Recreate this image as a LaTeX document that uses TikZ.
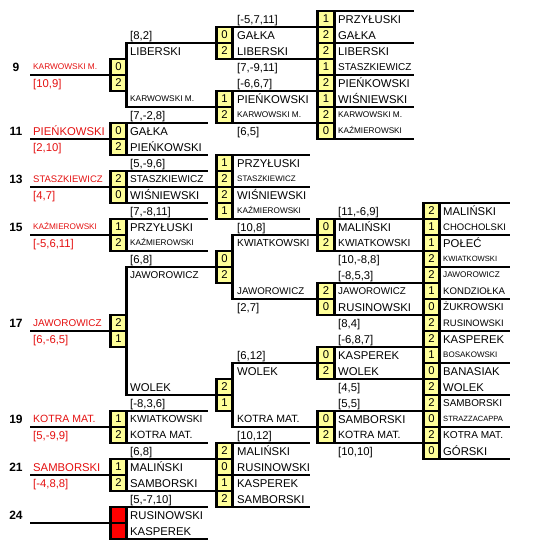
\documentclass[tikz,border=0pt]{standalone}
\usepackage{fontspec}
\setmainfont{Liberation Sans}
\usepackage{tikz}
\usetikzlibrary{positioning}
\definecolor{scorefill}{RGB}{255,255,153}
\definecolor{namered}{RGB}{228,16,16}

\begin{document}
\begin{tikzpicture}[
  x=1pt, y=-1pt,
  node distance=0pt,
  ln/.style={line width=2.6pt},
  sc/.style={draw, line width=2.6pt, fill=scorefill, minimum width=16.5pt, minimum height=16pt,
             inner sep=0pt, outer sep=0pt, font=\fontsize{11.3}{11.3}\selectfont},
  lost/.style={sc, fill=red},
  nm/.style={anchor=base west, inner sep=0pt, font=\fontsize{#1}{#1}\selectfont, yshift={-0.358*#1pt}},
  nm/.default=11.3,
  rd/.style={nm=#1, text=namered},
  rd/.default=11.3,
  nb/.style={anchor=base, inner sep=0pt, font=\fontsize{12}{12}\selectfont\bfseries, yshift=-4.3pt}
]
\useasboundingbox (0,0) rectangle (533,548);

\node[sc] (s9a) at (118.5,67) {0};
\node[sc, below=of s9a] (s9b) {2};
\node[sc] (s11a) at (118.5,131) {0};
\node[sc, below=of s11a] (s11b) {2};
\node[sc] (s13a) at (118.5,179) {2};
\node[sc, below=of s13a] (s13b) {0};
\node[sc] (s15a) at (118.5,227) {1};
\node[sc, below=of s15a] (s15b) {2};
\node[sc] (s17a) at (118.5,323) {2};
\node[sc, below=of s17a] (s17b) {1};
\node[sc] (s19a) at (118.5,419) {1};
\node[sc, below=of s19a] (s19b) {2};
\node[sc] (s21a) at (118.5,467) {1};
\node[sc, below=of s21a] (s21b) {2};
\node[lost] (s24a) at (118.5,515) {};
\node[lost, below=of s24a] (s24b) {};

\node[sc] (b2a) at (224.5,35) {0};
\node[sc, below=of b2a] (b2b) {2};
\node[sc] (b6a) at (224.5,99) {1};
\node[sc, below=of b6a] (b6b) {2};
\node[sc] (b10a) at (224.5,163) {1};
\node[sc, below=of b10a] (b10b) {2};
\node[sc, below=of b10b] (b10c) {2};
\node[sc, below=of b10c] (b10d) {1};
\node[sc] (b16a) at (224.5,259) {0};
\node[sc, below=of b16a] (b16b) {2};
\node[sc] (b24a) at (224.5,387) {2};
\node[sc, below=of b24a] (b24b) {1};
\node[sc] (b28a) at (224.5,451) {2};
\node[sc, below=of b28a] (b28b) {0};
\node[sc, below=of b28b] (b28c) {1};
\node[sc, below=of b28c] (b28d) {2};

\node[sc] (c1) at (326,19) {1};
\node[sc, below=of c1] (c2) {2};
\node[sc, below=of c2] (c3) {2};
\node[sc, below=of c3] (c4) {1};
\node[sc, below=of c4] (c5) {2};
\node[sc, below=of c5] (c6) {1};
\node[sc, below=of c6] (c7) {2};
\node[sc, below=of c7] (c8) {0};
\node[sc] (c14a) at (326,227) {0};
\node[sc, below=of c14a] (c14b) {2};
\node[sc] (c18a) at (326,291) {2};
\node[sc, below=of c18a] (c18b) {0};
\node[sc] (c22a) at (326,355) {0};
\node[sc, below=of c22a] (c22b) {2};
\node[sc] (c26a) at (326,419) {0};
\node[sc, below=of c26a] (c26b) {2};

\node[sc] (d13) at (431.5,211) {2};
\node[sc, below=of d13] (d14) {1};
\node[sc, below=of d14] (d15) {1};
\node[sc, below=of d15] (d16) {2};
\node[sc, below=of d16] (d17) {2};
\node[sc, below=of d17] (d18) {1};
\node[sc, below=of d18] (d19) {0};
\node[sc, below=of d19] (d20) {2};
\node[sc, below=of d20] (d21) {2};
\node[sc, below=of d21] (d22) {1};
\node[sc, below=of d22] (d23) {0};
\node[sc, below=of d23] (d24) {2};
\node[sc, below=of d24] (d25) {2};
\node[sc, below=of d25] (d26) {0};
\node[sc, below=of d26] (d27) {2};
\node[sc, below=of d27] (d28) {0};

\draw[ln] (s9a.south west) -- ++(-80,0);
\draw[ln] (s11a.south west) -- ++(-80,0);
\draw[ln] (s13a.south west) -- ++(-80,0);
\draw[ln] (s15a.south west) -- ++(-80,0);
\draw[ln] (s17a.south west) -- ++(-80,0);
\draw[ln] (s19a.south west) -- ++(-80,0);
\draw[ln] (s21a.south west) -- ++(-80,0);
\draw[ln] (s24a.south west) -- ++(-80,0);

\draw[ln] (b2a.south west) -| (s9a.north east);
\draw[ln] (b6a.south west) -| (s9b.south east);
\draw[ln] (s11a.north east) -- ++(81,0);
\draw[ln] (s11b.south east) -- ++(81,0);
\draw[ln] (s13a.north east) -- ++(81,0);
\draw[ln] (s13a.south east) -- (b10b.south west);
\draw[ln] (s13b.south east) -- ++(81,0);
\draw[ln] (s15a.north east) -- ++(81,0);
\draw[ln] (s15b.south east) -- ++(81,0);
\draw[ln] (b16a.south west) -| (s17a.north east);
\draw[ln] (b24a.south west) -| (s17b.south east);
\draw[ln] (s19a.north east) -- ++(81,0);
\draw[ln] (s19b.south east) -- ++(81,0);
\draw[ln] (s21a.north east) -- (b28a.south west);
\draw[ln] (s21b.south east) -- (b28c.south west);
\draw[ln] (s24a.north east) -- ++(81,0);
\draw[ln] (s24b.south east) -- ++(81,0);

\draw[ln] (b2a.north east) -- (c1.south west);
\draw[ln] (b2b.south east) -- (c3.south west);
\draw[ln] (b6a.north east) -- (c5.south west);
\draw[ln] (b6b.south east) -- (c7.south west);
\draw[ln] (b10a.north east) -- ++(77,0);
\draw[ln] (b10b.south east) -- ++(77,0);
\draw[ln] (b10d.south east) -- ++(77,0);
\draw[ln] (b16a.north east) |- (c14a.south west);
\draw[ln] (b16b.south east) |- (c18a.south west);
\draw[ln] (b24a.north east) |- (c22a.south west);
\draw[ln] (b24b.south east) |- (c26a.south west);
\draw[ln] (b28a.north east) -- ++(77,0);
\draw[ln] (b28b.south east) -- ++(77,0);
\draw[ln] (b28d.south east) -- ++(77,0);

\draw[ln] (c1.north east) -- ++(80,0);
\draw[ln] (c2.south east) -- ++(80,0);
\draw[ln] (c4.south east) -- ++(80,0);
\draw[ln] (c6.south east) -- ++(80,0);
\draw[ln] (c8.south east) -- ++(80,0);
\draw[ln] (c14a.north east) -- (d13.south west);
\draw[ln] (c14b.south east) -- (d15.south west);
\draw[ln] (c18a.north east) -- (d17.south west);
\draw[ln] (c18b.south east) -- (d19.south west);
\draw[ln] (c22a.north east) -- (d21.south west);
\draw[ln] (c22b.south east) -- (d23.south west);
\draw[ln] (c26a.north east) -- (d25.south west);
\draw[ln] (c26b.south east) -- (d27.south west);

\draw[ln] (d13.north east) -- ++(70,0);
\draw[ln] (d14.south east) -- ++(70,0);
\draw[ln] (d16.south east) -- ++(70,0);
\draw[ln] (d18.south east) -- ++(70,0);
\draw[ln] (d20.south east) -- ++(70,0);
\draw[ln] (d22.south east) -- ++(70,0);
\draw[ln] (d24.south east) -- ++(70,0);
\draw[ln] (d26.south east) -- ++(70,0);
\draw[ln] (d28.south east) -- ++(70,0);

\node[nb] (m9) at (16,67) {9};
\node[nb] (m11) at (16,131) {11};
\node[nb] (m13) at (16,179) {13};
\node[nb] (m15) at (16,227) {15};
\node[nb] (m17) at (16,323) {17};
\node[nb] (m19) at (16,419) {19};
\node[nb] (m21) at (16,467) {21};
\node[nb] (m24) at (16,515) {24};

\node[rd=8.3] (pA4) at (33,67) {KARWOWSKI M.};
\node[rd] (pA5) at (33,83) {[10,9]};
\node[rd] (pA8) at (33,131) {PIEŃKOWSKI};
\node[rd] (pA9) at (33,147) {[2,10]};
\node[rd=9.5] (pA11) at (33,179) {STASZKIEWICZ};
\node[rd] (pA12) at (33,195) {[4,7]};
\node[rd=8.2] (pA14) at (33,227) {KAŹMIEROWSKI};
\node[rd] (pA15) at (33,243) {[-5,6,11]};
\node[rd=9.9] (pA20) at (33,323) {JAWOROWICZ};
\node[rd] (pA21) at (33,339) {[6,-6,5]};
\node[rd=10.5] (pA26) at (33,419) {KOTRA MAT.};
\node[rd] (pA27) at (33,435) {[5,-9,9]};
\node[rd] (pA29) at (33,467) {SAMBORSKI};
\node[rd] (pA30) at (33,483) {[-4,8,8]};

\node[nm] (pB2) at (130,35) {[8,2]};
\node[nm] (pB3) at (130,51) {LIBERSKI};
\node[nm=8.3] (pB6) at (130,99) {KARWOWSKI M.};
\node[nm] (pB7) at (130,115) {[7,-2,8]};
\node[nm] (pB8) at (130,131) {GAŁKA};
\node[nm] (pB9) at (130,147) {PIEŃKOWSKI};
\node[nm] (pB10) at (130,163) {[5,-9,6]};
\node[nm=10] (pB11) at (130,179) {STASZKIEWICZ};
\node[nm] (pB12) at (130,195) {WIŚNIEWSKI};
\node[nm] (pB13) at (130,211) {[7,-8,11]};
\node[nm] (pB14) at (130,227) {PRZYŁUSKI};
\node[nm=8.2] (pB15) at (130,243) {KAŹMIEROWSKI};
\node[nm] (pB16) at (130,259) {[6,8]};
\node[nm=9.9] (pB17) at (130,275) {JAWOROWICZ};
\node[nm] (pB24) at (130,387) {WOLEK};
\node[nm] (pB25) at (130,403) {[-8,3,6]};
\node[nm=10.2] (pB26) at (130,419) {KWIATKOWSKI};
\node[nm=10.5] (pB27) at (130,435) {KOTRA MAT.};
\node[nm] (pB28) at (130,451) {[6,8]};
\node[nm] (pB29) at (130,467) {MALIŃSKI};
\node[nm] (pB30) at (130,483) {SAMBORSKI};
\node[nm] (pB31) at (130,499) {[5,-7,10]};
\node[nm] (pB32) at (130,515) {RUSINOWSKI};
\node[nm] (pB33) at (130,531) {KASPEREK};

\node[nm] (pC1) at (237,19) {[-5,7,11]};
\node[nm] (pC2) at (237,35) {GAŁKA};
\node[nm] (pC3) at (237,51) {LIBERSKI};
\node[nm] (pC4) at (237,67) {[7,-9,11]};
\node[nm] (pC5) at (237,83) {[-6,6,7]};
\node[nm] (pC6) at (237,99) {PIEŃKOWSKI};
\node[nm=8.3] (pC7) at (237,115) {KARWOWSKI M.};
\node[nm] (pC8) at (237,131) {[6,5]};
\node[nm] (pC10) at (237,163) {PRZYŁUSKI};
\node[nm=8] (pC11) at (237,179) {STASZKIEWICZ};
\node[nm] (pC12) at (237,195) {WIŚNIEWSKI};
\node[nm=8.2] (pC13) at (237,211) {KAŹMIEROWSKI};
\node[nm] (pC14) at (237,227) {[10,8]};
\node[nm=10.2] (pC15) at (237,243) {KWIATKOWSKI};
\node[nm=9.7] (pC18) at (237,291) {JAWOROWICZ};
\node[nm] (pC19) at (237,307) {[2,7]};
\node[nm] (pC22) at (237,355) {[6,12]};
\node[nm] (pC23) at (237,371) {WOLEK};
\node[nm=10.5] (pC26) at (237,419) {KOTRA MAT.};
\node[nm] (pC27) at (237,435) {[10,12]};
\node[nm] (pC28) at (237,451) {MALIŃSKI};
\node[nm] (pC29) at (237,467) {RUSINOWSKI};
\node[nm] (pC30) at (237,483) {KASPEREK};
\node[nm] (pC31) at (237,499) {SAMBORSKI};

\node[nm] (pD1) at (338,19) {PRZYŁUSKI};
\node[nm] (pD2) at (338,35) {GAŁKA};
\node[nm] (pD3) at (338,51) {LIBERSKI};
\node[nm=10] (pD4) at (338,67) {STASZKIEWICZ};
\node[nm] (pD5) at (338,83) {PIEŃKOWSKI};
\node[nm] (pD6) at (338,99) {WIŚNIEWSKI};
\node[nm=8.3] (pD7) at (338,115) {KARWOWSKI M.};
\node[nm=8.2] (pD8) at (338,131) {KAŹMIEROWSKI};
\node[nm] (pD13) at (338,211) {[11,-6,9]};
\node[nm] (pD14) at (338,227) {MALIŃSKI};
\node[nm=10.2] (pD15) at (338,243) {KWIATKOWSKI};
\node[nm] (pD16) at (338,259) {[10,-8,8]};
\node[nm] (pD17) at (338,275) {[-8,5,3]};
\node[nm=9.8] (pD18) at (338,291) {JAWOROWICZ};
\node[nm] (pD19) at (338,307) {RUSINOWSKI};
\node[nm] (pD20) at (338,323) {[8,4]};
\node[nm] (pD21) at (338,339) {[-6,8,7]};
\node[nm] (pD22) at (338,355) {KASPEREK};
\node[nm] (pD23) at (338,371) {WOLEK};
\node[nm] (pD24) at (338,387) {[4,5]};
\node[nm] (pD25) at (338,403) {[5,5]};
\node[nm] (pD26) at (338,419) {SAMBORSKI};
\node[nm=10.5] (pD27) at (338,435) {KOTRA MAT.};
\node[nm] (pD28) at (338,451) {[10,10]};

\node[nm] (pE13) at (443,211) {MALIŃSKI};
\node[nm=9.5] (pE14) at (443,227) {CHOCHOLSKI};
\node[nm] (pE15) at (443,243) {POŁEĆ};
\node[nm=7.6] (pE16) at (443,259) {KWIATKOWSKI};
\node[nm=8.2] (pE17) at (443,275) {JAWOROWICZ};
\node[nm=9.6] (pE18) at (443,291) {KONDZIOŁKA};
\node[nm=10] (pE19) at (443,307) {ŻUKROWSKI};
\node[nm=9.4] (pE20) at (443,323) {RUSINOWSKI};
\node[nm] (pE21) at (443,339) {KASPEREK};
\node[nm=8] (pE22) at (443,355) {BOSAKOWSKI};
\node[nm] (pE23) at (443,371) {BANASIAK};
\node[nm] (pE24) at (443,387) {WOLEK};
\node[nm=9.9] (pE25) at (443,403) {SAMBORSKI};
\node[nm=7.6] (pE26) at (443,419) {STRAZZACAPPA};
\node[nm=10.1] (pE27) at (443,435) {KOTRA MAT.};
\node[nm] (pE28) at (443,451) {GÓRSKI};

\end{tikzpicture}
\end{document}
